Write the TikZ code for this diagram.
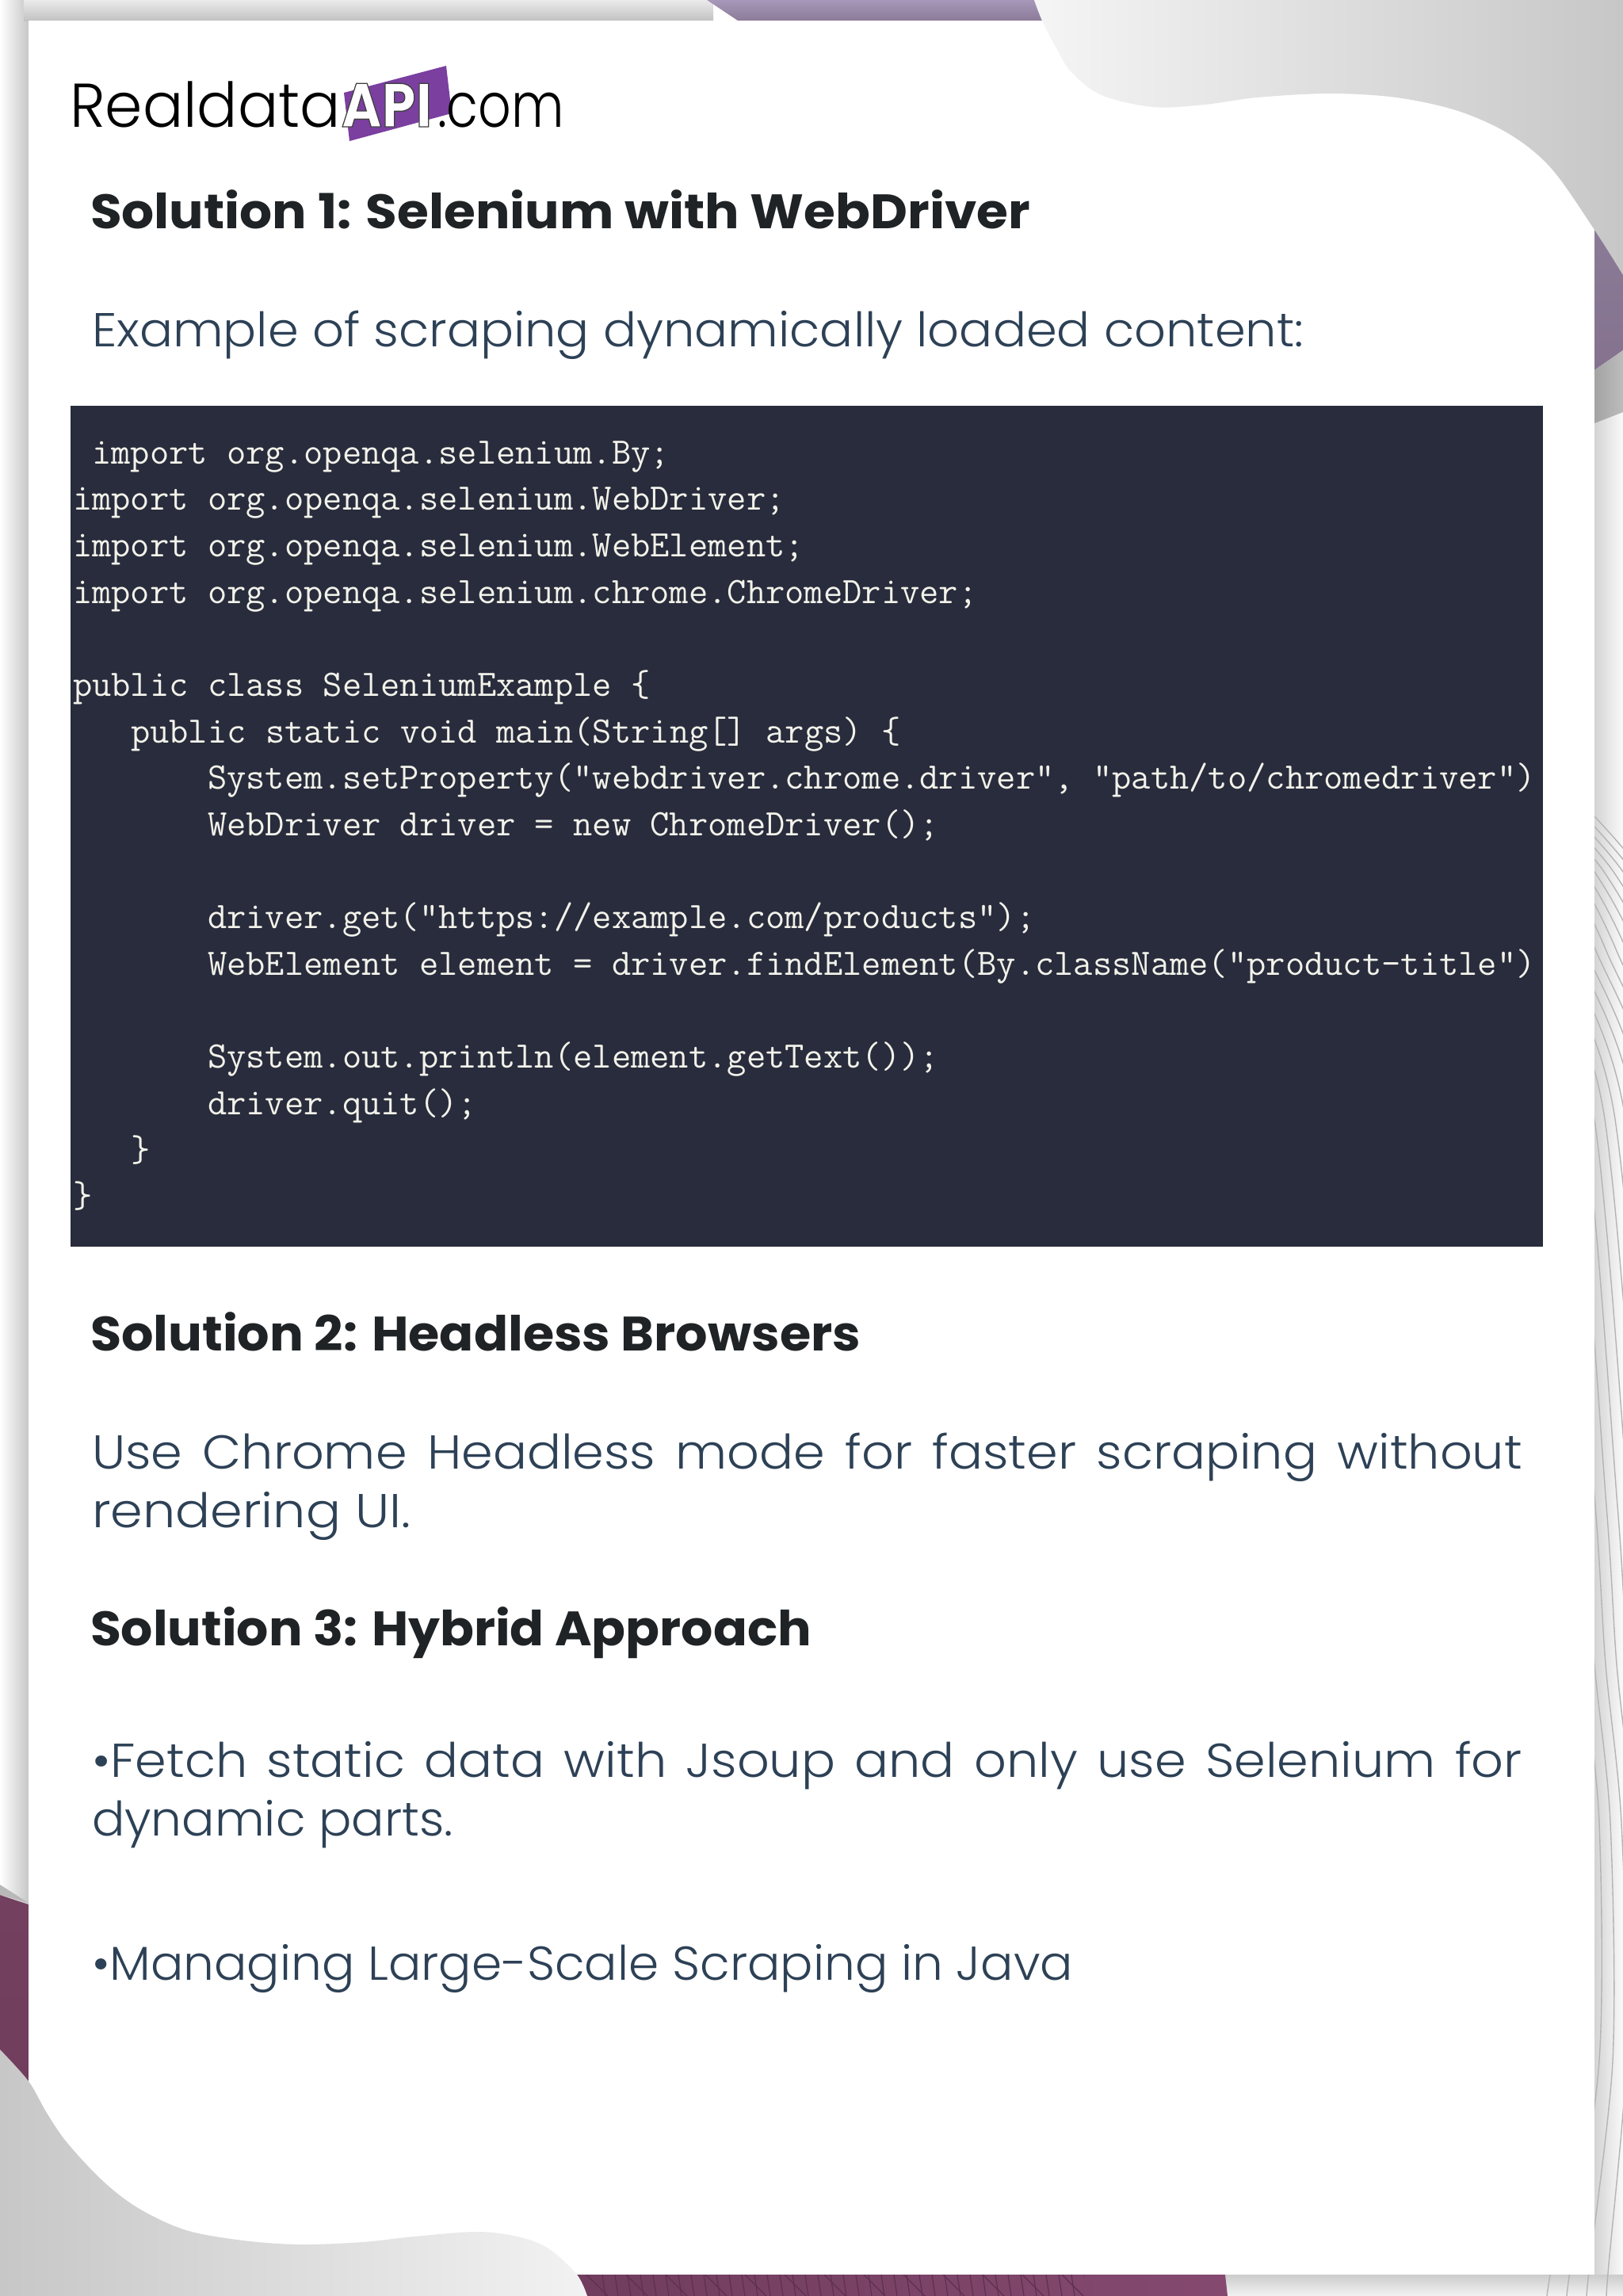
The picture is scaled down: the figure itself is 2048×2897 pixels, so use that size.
\documentclass[tikz,border=0pt]{standalone}
\usepackage{fontspec}
\usepackage{graphicx}
\setmainfont{Poppins Light}
\newfontfamily\headfont{Poppins Bold}
\newfontfamily\logofont{Poppins Light}
\newfontfamily\apifont{Poppins}[BoldFont={Poppins Bold}]
\definecolor{headc}{HTML}{1F2326}
\definecolor{bodyc}{HTML}{2D4156}
\definecolor{codebg}{HTML}{282C3C}
\definecolor{codefg}{HTML}{F2F2EA}
\definecolor{logop}{HTML}{7B3FA0}
\definecolor{linec}{HTML}{B4B4B4}
\definecolor{purA}{HTML}{A797B9}
\definecolor{purB}{HTML}{8C7C98}
\definecolor{purC}{HTML}{84728F}
\definecolor{marA}{HTML}{74405F}
\definecolor{marB}{HTML}{703D5E}
\definecolor{marC}{HTML}{85496F}
\definecolor{marD}{HTML}{5E2F50}
\newcommand\fitx[2]{\setbox0=\hbox{#2}\pgfmathsetmacro\sxv{#1/\the\wd0}\scalebox{\sxv}[1]{\box0}}
\tikzset{
  txt/.style={anchor=base west,inner sep=0pt,outer sep=0pt},
  headline/.style={txt,text=headc,font=\headfont\fontsize{30.5}{36}\selectfont},
  bodyline/.style={txt,text=bodyc,font=\fontsize{30}{36}\selectfont},
  codeline/.style={txt,text=codefg,font=\ttfamily\fontsize{23.58}{28}\selectfont},
  logotext/.style={txt,text=black,font=\logofont\fontsize{39}{44}\selectfont},
}
\newcommand\justline[2]{\makebox[#1pt][s]{#2}}
\begin{document}
\begin{tikzpicture}[x=0.5pt,y=-0.5pt]
\useasboundingbox (0,0) rectangle (2048,2897);
\clip (0,0) rectangle (2048,2897);
% margin shadows
\shade[left color=white,right color=black!22] (0,0) rectangle (36,2420);
\shade[top color=black!8,bottom color=black!24] (30,0) rectangle (900,26);
\shade[left color=black!17,right color=black!2] (2012,500) rectangle (2048,2897);
\shade[top color=black!20,bottom color=black!5] (1540,2870) rectangle (2048,2897);
% fine lines of the right margin
\begin{scope}
\clip (2012,1000) rectangle (2048,2897) (1540,2870) rectangle (2048,2897);
\foreach \k in {0,...,21}{
  \draw[linec,line width=0.7pt] plot[smooth] coordinates {
    ({2012-\k*12},1030) ({2072-\k*12},1100) ({2131-\k*13},1200) ({2205-\k*13},1400)
    ({2265-\k*14},1900) ({2278-\k*14},2100) ({2298-\k*14},2300) ({2358-\k*17},2600)
    ({2477-\k*25},2897) ({2490-\k*25},2920)};
}
\end{scope}
% coloured shapes behind the sheet
\shade[top color=purA,bottom color=purB] (892,0) -- (931,26) -- (1315,26) -- (1305,0) -- cycle;
\shade[top color=purB,bottom color=purC] (2012,270) -- (2048,330) -- (2048,442) -- (2012,467) -- cycle;
\shade[left color=black!36,right color=black!26] (2012,467) -- (2048,442) -- (2048,520) -- (2012,534) -- cycle;
\fill[black!28] (0,2378) -- (36,2401) -- (0,2391) -- cycle;
\shade[top color=marA,bottom color=marB] (0,2391) -- (36,2403) -- (36,2650) -- (0,2650) -- cycle;
\shade[left color=marB,right color=marC] (728,2870) -- (1546,2870) -- (1549,2897) -- (741,2897) -- cycle;
\begin{scope}
\clip (728,2870) rectangle (1368,2897);
\foreach \x in {760,776,...,1368}{\draw[marD,line width=0.6pt] (\x,2870) -- ({\x+4},2897);}
\foreach \x in {740,790,...,1340}{\draw[marD,line width=0.6pt] (\x,2870) -- ({\x+27},2897);}
\end{scope}
% the sheet
\fill[white] (36,26) rectangle (2012,2870);
% grey corner shapes
\shade[left color=black!4,right color=black!22] plot[smooth,tension=0.55] coordinates {
  (1305,0) (1315,26) (1331,57) (1351,90) (1390,120) (1455,135) (1520,132) (1586,123) (1677,118)
  (1762,123) (1840,140) (1906,170) (1958,213) (2012,290) (2048,347)} -- (2048,0) -- cycle;
\shade[left color=black!22,right color=black!5] plot[smooth,tension=0.55] coordinates {
  (0,2586) (36,2626) (59,2666) (85,2704) (131,2753) (176,2787) (235,2814) (307,2827) (379,2832)
  (457,2829) (522,2822) (601,2816) (653,2822) (692,2837) (728,2870) (741,2897)} -- (0,2897) -- cycle;
% logo
\fill[logop] (563,83) -- (570,143) -- (441,178) -- (434,117) -- cycle;
\node[logotext] (logoa) at (88,160) {\fitx{171}{Realdata}};
\node[txt,text=white,font=\apifont\bfseries\fontsize{39}{44}\selectfont] (logob) at (431,160)
  {\special{pdf:literal direct 2 Tr 0.7 w 0.25 0.25 0.25 RG}\fitx{57}{API}\special{pdf:literal direct 0 Tr}};
\node[logotext] (logoc) at (552,160) {\fitx{80}{.com}};
% text
\node[headline] (h1) at (114,288) {\fitx{593}{Solution 1: Selenium with WebDriver}};
\node[bodyline] (p1) at (116,437) {\fitx{764.5}{Example of scraping dynamically loaded content:}};
% code
\node[fill=codebg,anchor=north west,inner sep=0pt,outer sep=0pt,minimum width=929pt,minimum height=530.5pt] (codebox) at (89,512) {};
\node[codeline] (c1) at (92,585) {\ import org.openqa.selenium.By;};
\node[codeline] (c2) at (92,643.7) {import org.openqa.selenium.WebDriver;};
\node[codeline] (c3) at (92,702.3) {import org.openqa.selenium.WebElement;};
\node[codeline] (c4) at (92,761) {import org.openqa.selenium.chrome.ChromeDriver;};
\node[codeline] (c5) at (92,878.4) {public class SeleniumExample \{};
\node[codeline] (c6) at (165,937) {public static void main(String[] args) \{};
\node[codeline] (c7) at (262,995.7) {System.setProperty("webdriver.chrome.driver", "path/to/chromedriver")};
\node[codeline] (c8) at (262,1054.4) {WebDriver driver = new ChromeDriver();};
\node[codeline] (c9) at (262,1171.7) {driver.get("https://example.com/products");};
\node[codeline] (c10) at (262,1230.4) {WebElement element = driver.findElement(By.className("product-title")};
\node[codeline] (c11) at (262,1347.7) {System.out.println(element.getText());};
\node[codeline] (c12) at (262,1406.4) {driver.quit();};
\node[codeline] (c13) at (165,1465) {\}};
\node[codeline] (c14) at (92,1523.7) {\}};
% remaining text
\node[headline] (h2) at (114,1704) {\fitx{486}{Solution 2: Headless Browsers}};
\node[bodyline] (p2a) at (116,1853) {\fitx{902.5}{\justline{850}{Use Chrome Headless mode for faster scraping without}}};
\node[bodyline] (p2b) at (116,1927) {\fitx{201}{rendering UI.}};
\node[headline] (h3) at (114,2076) {\fitx{455}{Solution 3: Hybrid Approach}};
\node[bodyline] (p3a) at (116,2242) {\fitx{902.5}{\justline{850}{•Fetch static data with Jsoup and only use Selenium for}}};
\node[bodyline] (p3b) at (116,2316) {\fitx{228}{dynamic parts.}};
\node[bodyline] (p4) at (116,2498) {\fitx{619}{•Managing Large-Scale Scraping in Java}};
\end{tikzpicture}
\end{document}
